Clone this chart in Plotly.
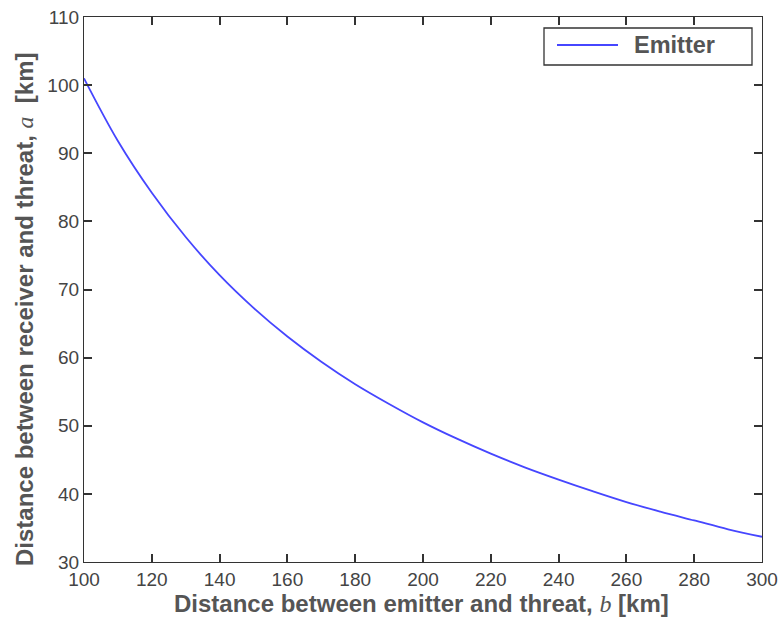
import plotly.graph_objects as go

# distance between emitter and threat, b [km]
b_km = [100, 110, 120, 130, 140, 150, 160, 170, 180, 190, 200,
        210, 220, 230, 240, 250, 260, 270, 280, 290, 300]
# distance between receiver and threat, a [km]
a_km = [101.0, 91.8, 84.2, 77.7, 72.1, 67.3, 63.1, 59.4, 56.1, 53.2, 50.5,
        48.1, 45.9, 43.9, 42.1, 40.4, 38.8, 37.4, 36.1, 34.8, 33.7]
series_name = "Emitter"
x_ticks = [100, 120, 140, 160, 180, 200, 220, 240, 260, 280, 300]
y_ticks = [30, 40, 50, 60, 70, 80, 90, 100, 110]

TICK_COLOR = "#444444"
TITLE_COLOR = "#555555"
AXIS_COLOR = "#333333"
LINE_COLOR = "rgb(70,70,255)"
SANS = "Liberation Sans, Arial, sans-serif"

WIN_W, WIN_H = 781, 630
# plot area in window pixels
L, R, T, B = 84, 762, 17, 562
W, H = R - L, B - T


def px(xp):
    return (xp - L) / W


def py(yp):
    return (B - yp) / H


fig = go.Figure()
fig.add_trace(go.Scatter(
    x=b_km, y=a_km, mode="lines", name=series_name, showlegend=False,
    line=dict(color=LINE_COLOR, width=1.8, shape="spline"),
))

serif = "font-family:'Liberation Serif','DejaVu Serif',serif;font-style:italic;font-weight:normal"

shapes = [
    # legend box
    dict(type="rect", xref="paper", yref="paper",
         x0=px(544), x1=px(752), y0=py(65), y1=py(28),
         line=dict(color=AXIS_COLOR, width=1.3), fillcolor="white", layer="above"),
    # legend line sample
    dict(type="line", xref="paper", yref="paper",
         x0=px(557), x1=px(618), y0=py(45), y1=py(45),
         line=dict(color=LINE_COLOR, width=1.8), layer="above"),
]

annotations = [
    dict(text="<b>" + series_name + "</b>", xref="paper", yref="paper",
         x=px(632), y=py(45.5), xanchor="left", yanchor="middle", showarrow=False,
         font=dict(size=23.5, color=TITLE_COLOR, family=SANS)),
    dict(text="<b>Distance between emitter and threat, </b><span style=\"" + serif + "\">b</span><b> [km]</b>",
         xref="paper", yref="paper", x=px(421.5), y=py(604), xanchor="center", yanchor="middle",
         showarrow=False, font=dict(size=24, color=TITLE_COLOR, family=SANS)),
    dict(text="<b>Distance between receiver and threat, </b><span style=\"" + serif + "\">a</span><b>  [km]</b>",
         xref="paper", yref="paper", x=px(24), y=py(309), xanchor="center", yanchor="middle",
         textangle=-90, showarrow=False, font=dict(size=24, color=TITLE_COLOR, family=SANS)),
]

axis_common = dict(
    showline=True, linecolor=AXIS_COLOR, linewidth=1.3, mirror="ticks",
    ticks="inside", ticklen=8, tickcolor=AXIS_COLOR, tickwidth=1.5,
    showgrid=False, zeroline=False, automargin=False, ticklabeloverflow="allow",
    tickfont=dict(size=19, color=TICK_COLOR, family=SANS),
)

fig.update_layout(
    width=WIN_W, height=WIN_H,
    margin=dict(l=L, r=WIN_W - R, t=T, b=WIN_H - B),
    paper_bgcolor="white", plot_bgcolor="white",
    font=dict(family=SANS, color=TICK_COLOR),
    showlegend=False,
    shapes=shapes,
    annotations=annotations,
    xaxis=dict(range=[100, 300], tickvals=x_ticks, ticktext=[str(v) for v in x_ticks],
               **axis_common),
    yaxis=dict(range=[30, 110], tickvals=y_ticks, ticktext=[str(v) for v in y_ticks],
               **axis_common),
)

fig.write_html(
    "out.html",
    config={"displayModeBar": False},
    post_script="document.body.style.margin='0';document.body.style.overflow='hidden';",
)
